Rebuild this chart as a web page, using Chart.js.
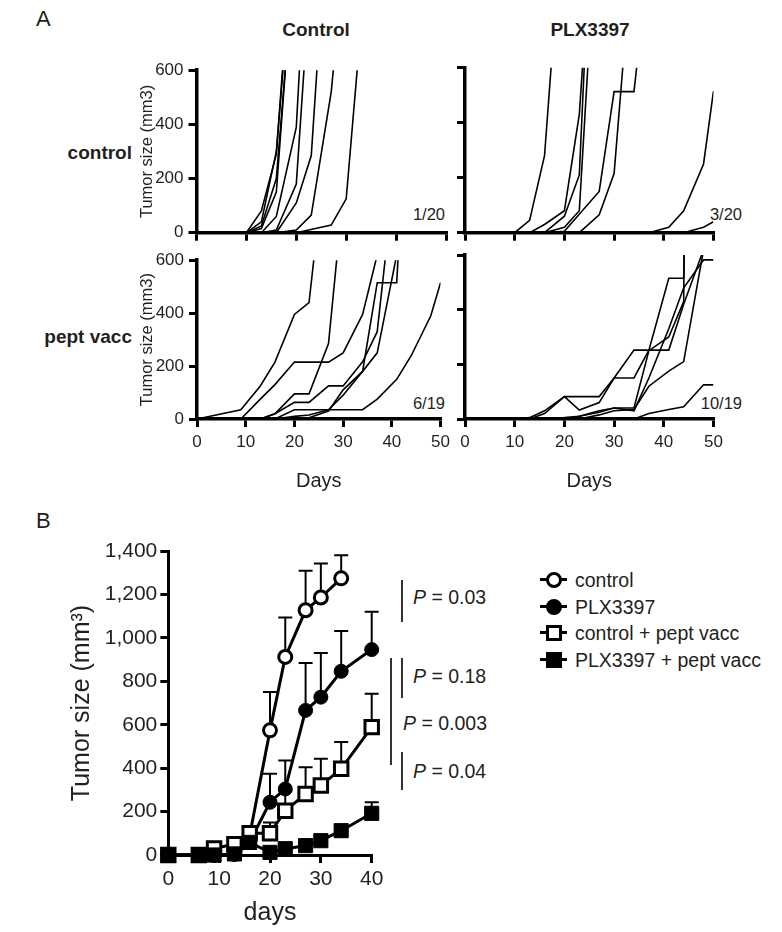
<!DOCTYPE html>
<html><head><meta charset="utf-8">
<script src="https://cdn.jsdelivr.net/npm/chart.js@4/dist/chart.umd.min.js"></script>
<style>
body{margin:0;background:#fff;width:782px;height:932px;position:relative;overflow:hidden;font-family:"Liberation Sans",Arial,sans-serif;color:#231f20}
canvas{position:absolute}
.t{position:absolute;white-space:nowrap;line-height:1}
.vl{position:absolute;width:2px;background:#333}
.lg{position:absolute;height:20px;width:240px}
.lg .ln{position:absolute;left:0;top:8px;width:27px;height:3px;background:#000}
.lg .mk{position:absolute;left:6px;top:2px;width:10px;height:10px;border:3px solid #000;background:#fff}
.lg .tx{position:absolute;left:35px;top:0;font-size:19.5px;line-height:20px}
</style></head><body>

<div class="t" style="left:36px;top:8px;font-size:22px">A</div>
<div class="t" style="left:36px;top:510px;font-size:22px">B</div>
<div class="t" style="left:316px;top:20px;font-size:19px;font-weight:bold;transform:translateX(-50%)">Control</div>
<div class="t" style="left:590px;top:20px;font-size:19px;font-weight:bold;transform:translateX(-50%)">PLX3397</div>
<div class="t" style="right:650px;top:143px;font-size:19px;font-weight:bold">control</div>
<div class="t" style="right:650px;top:327px;font-size:19px;font-weight:bold">pept vacc</div>
<div class="t" style="right:337px;top:206px;font-size:16.5px">1/20</div>
<div class="t" style="right:40px;top:206px;font-size:16.5px">3/20</div>
<div class="t" style="right:337px;top:395px;font-size:16.5px">6/19</div>
<div class="t" style="right:40px;top:395px;font-size:16.5px">10/19</div>

<canvas id="cTL" width="335" height="195" style="left:120px;top:55px"></canvas>
<canvas id="cTR" width="285" height="195" style="left:445px;top:55px"></canvas>
<canvas id="cBL" width="335" height="255" style="left:120px;top:245px"></canvas>
<canvas id="cBR" width="285" height="255" style="left:445px;top:245px"></canvas>
<canvas id="cB" width="350" height="400" style="left:40px;top:530px"></canvas>

<div class="vl" style="left:401px;top:580px;height:42px"></div>
<div class="t" style="left:413px;top:588px;font-size:19.5px"><i>P</i> = 0.03</div>
<div class="vl" style="left:390px;top:658px;height:107px"></div>
<div class="vl" style="left:401px;top:658px;height:40px"></div>
<div class="t" style="left:413px;top:667px;font-size:19.5px"><i>P</i> = 0.18</div>
<div class="t" style="left:403px;top:714px;font-size:19.5px"><i>P</i> = 0.003</div>
<div class="vl" style="left:401px;top:752px;height:38px"></div>
<div class="t" style="left:413px;top:762px;font-size:19.5px"><i>P</i> = 0.04</div>

<div class="lg" style="left:540px;top:570px"><div class="ln"></div><div class="mk" style="border-radius:50%"></div><div class="tx">control</div></div>
<div class="lg" style="left:540px;top:597px"><div class="ln"></div><div class="mk" style="border-radius:50%;background:#000"></div><div class="tx">PLX3397</div></div>
<div class="lg" style="left:540px;top:623px"><div class="ln"></div><div class="mk"></div><div class="tx">control + pept vacc</div></div>
<div class="lg" style="left:540px;top:650px"><div class="ln"></div><div class="mk" style="background:#000"></div><div class="tx">PLX3397 + pept vacc</div></div>

<script>
const FONT = '"Liberation Sans", Arial, sans-serif';
const INK = '#231f20';

// ---- Panel A: individual tumor growth curves, [day, size mm3] ----
const aXTicks = [0, 10, 20, 30, 40, 50];
const aYTicks = [0, 200, 400, 600];

const controlControl = [
  [[10,0],[13,80],[16,290],[20,1300]],
  [[10,0],[13,40],[16,300],[20,1200]],
  [[10,0],[13,15],[16,150],[20,1150]],
  [[10,0],[13,25],[16,200],[20,1100]],
  [[13,0],[16,60],[20,390],[23,1400]],
  [[13,0],[16,10],[20,180],[23,1000]],
  [[16,0],[20,110],[23,285],[27,1400]],
  [[16,0],[20,10],[23,65],[27,520],[30,1100]],
  [[20,0],[27,28],[30,125],[34,990]]
];
const plxControl = [
  [[10,0],[13,45],[16,280],[20,1250]],
  [[13,0],[16,30],[20,80],[23,430],[27,1500]],
  [[16,0],[20,60],[23,210],[27,1800]],
  [[16,0],[20,20],[23,80],[27,1300]],
  [[16,0],[20,5],[27,150],[30,513],[34,513],[37,1000]],
  [[23,0],[27,65],[30,215],[34,1100]],
  [[37,0],[41,20],[44,80],[48,250],[50,515]],
  [[44,0],[48,20],[50,40]]
];
const controlVacc = [
  [[0,0],[9,35],[13,125],[16,215],[20,395],[23,440],[27,1100]],
  [[9,0],[13,75],[16,130],[20,215],[27,215],[30,250],[34,395],[37,620]],
  [[13,0],[16,20],[20,95],[23,95],[27,285],[30,850]],
  [[13,0],[16,20],[20,63],[23,63],[27,125],[30,125],[34,216],[37,330],[41,1000]],
  [[16,0],[20,10],[23,15],[27,35],[30,90],[34,180],[37,515],[41,515],[44,1500]],
  [[16,0],[20,35],[34,35],[37,75],[41,150],[44,240],[48,390],[50,515]],
  [[20,0],[23,5],[27,30],[30,110],[34,180],[37,250],[41,620]]
];
const plxVacc = [
  [[10,0],[13,5],[16,30],[20,82],[23,82],[27,82],[30,150],[34,150],[37,252],[41,515],[44,515],[45,1500]],
  [[13,0],[16,20],[20,82],[23,33],[27,60],[30,150],[34,252],[37,252],[41,252],[44,420],[48,620]],
  [[20,0],[23,10],[27,25],[30,40],[34,30],[37,150],[41,330],[44,480],[48,582],[50,582]],
  [[23,0],[27,15],[30,30],[34,35],[37,120],[41,175],[44,210],[48,620]],
  [[34,0],[37,20],[41,35],[44,45],[48,125],[50,125]],
  [[16,0],[20,5],[23,10],[27,30],[30,40],[34,40],[37,250],[41,300],[44,430],[44.6,1500]]
];

// ---- Panel B: mean tumor size ----
const daysB = [0, 6, 9, 13, 16, 20, 23, 27, 30, 34, 40];
const bControl      = [0, 0, 0, 5, 90, 574, 912, 1127, 1186, 1274, null];
const bControlErr   = [0, 0, 0, 0, 20, 177, 182, 182, 157, 107, null];
const bPlx          = [0, 0, 0, 5, 60, 243, 304, 666, 727, 846, 946];
const bPlxErr       = [0, 0, 0, 0, 15, 131, 131, 218, 203, 186, 174];
const bCtrlVacc     = [0, 0, 30, 50, 100, 100, 204, 281, 320, 397, 589];
const bCtrlVaccErr  = [0, 0, 0, 0, 10, 50, 90, 123, 123, 123, 154];
const bPlxVacc      = [0, 0, 0, 5, 58, 12, 29, 43, 66, 112, 192];
const bPlxVaccErr   = [0, 0, 0, 0, 10, 8, 10, 10, 12, 15, 51];
const bYTicks = [0, 200, 400, 600, 800, 1000, 1200, 1400];
const bXTicks = [0, 10, 20, 30, 40];

function spaghetti(id, lines, o) {
  new Chart(document.getElementById(id), {
    type: 'line',
    data: { datasets: lines.map(l => ({
      data: l.map(p => ({x: p[0], y: p[1]})),
      borderColor: '#000', borderWidth: 1.6, pointRadius: 0, tension: 0, fill: false
    })) },
    options: {
      responsive: false, animation: false, events: [],
      layout: { padding: { left: 0, right: o.padR, top: o.padT, bottom: 0 } },
      plugins: { legend: { display: false }, tooltip: { enabled: false } },
      scales: {
        x: {
          type: 'linear', min: 0, max: 50,
          afterBuildTicks(s) { s.ticks = aXTicks.map(v => ({value: v})); },
          border: { display: true, width: 3.5, color: '#000' },
          grid: { display: true, drawOnChartArea: false, drawTicks: true, tickLength: 8, lineWidth: 3, color: '#000' },
          ticks: { display: o.xLabels, font: { size: 17, family: FONT }, color: INK, padding: 5, maxRotation: 0 },
          title: { display: o.xLabels, text: 'Days', font: { size: 20, family: FONT }, color: INK, padding: { top: 0, bottom: 7 } },
          afterFit(s) { s.height = o.xH; }
        },
        y: {
          min: 0, max: 600,
          afterBuildTicks(s) { s.ticks = aYTicks.map(v => ({value: v})); },
          border: { display: true, width: 3.5, color: '#000' },
          grid: { display: true, drawOnChartArea: false, drawTicks: true, tickLength: 8, lineWidth: 3, color: '#000' },
          ticks: { display: o.yLabels, font: { size: 17, family: FONT }, color: INK, padding: 5 },
          title: { display: o.yLabels, text: 'Tumor size (mm3)', font: { size: 16.5, family: FONT }, color: INK, padding: { top: 18, bottom: 0 } },
          afterFit(s) { s.width = o.yW; }
        }
      }
    }
  });
}

spaghetti('cTL', controlControl, { padR: 9, padT: 12.7, xH: 17.3, yW: 76.5, xLabels: false, yLabels: true });
spaghetti('cTR', plxControl,     { padR: 16.5, padT: 12.7, xH: 17.3, yW: 20, xLabels: false, yLabels: false });
spaghetti('cBL', controlVacc,    { padR: 9, padT: 10, xH: 81, yW: 77, xLabels: true, yLabels: true });
spaghetti('cBR', plxVacc,        { padR: 16.5, padT: 10, xH: 81, yW: 20, xLabels: true, yLabels: false });

const errorBars = {
  id: 'errorBars',
  beforeDatasetsDraw(chart) {
    const { ctx, scales: { x, y } } = chart;
    ctx.save();
    ctx.strokeStyle = '#000'; ctx.lineWidth = 2;
    chart.data.datasets.forEach(ds => {
      if (!ds.errors) return;
      ds.data.forEach((pt, i) => {
        const e = ds.errors[i];
        if (!pt || !e) return;
        const px = x.getPixelForValue(pt.x);
        const y0 = y.getPixelForValue(pt.y), y1 = y.getPixelForValue(pt.y + e);
        ctx.beginPath();
        ctx.moveTo(px, y0); ctx.lineTo(px, y1);
        ctx.moveTo(px - 7, y1); ctx.lineTo(px + 7, y1);
        ctx.stroke();
      });
    });
    ctx.restore();
  }
};

function series(vals) {
  return daysB.map((d, i) => vals[i] == null ? null : ({x: d, y: vals[i]})).filter(p => p);
}
function errs(vals, e) {
  return daysB.map((d, i) => vals[i] == null ? null : e[i]).filter(v => v !== null);
}

new Chart(document.getElementById('cB'), {
  type: 'line',
  data: { datasets: [
    { label: 'control', data: series(bControl), errors: errs(bControl, bControlErr), order: 3,
      borderColor: '#000', borderWidth: 3, pointStyle: 'circle', pointRadius: 6.5, pointBorderWidth: 3,
      pointBackgroundColor: '#fff', pointBorderColor: '#000', clip: false, tension: 0 },
    { label: 'PLX3397', data: series(bPlx), errors: errs(bPlx, bPlxErr), order: 2,
      borderColor: '#000', borderWidth: 3, pointStyle: 'circle', pointRadius: 7, pointBorderWidth: 1,
      pointBackgroundColor: '#000', pointBorderColor: '#000', clip: false, tension: 0 },
    { label: 'control + pept vacc', data: series(bCtrlVacc), errors: errs(bCtrlVacc, bCtrlVaccErr), order: 1,
      borderColor: '#000', borderWidth: 3, pointStyle: 'rect', pointRadius: 9.5, pointBorderWidth: 3,
      pointBackgroundColor: '#fff', pointBorderColor: '#000', clip: false, tension: 0 },
    { label: 'PLX3397 + pept vacc', data: series(bPlxVacc), errors: errs(bPlxVacc, bPlxVaccErr), order: 0,
      borderColor: '#000', borderWidth: 3, pointStyle: 'rect', pointRadius: 10, pointBorderWidth: 1,
      pointBackgroundColor: '#000', pointBorderColor: '#000', clip: false, tension: 0 }
  ] },
  options: {
    responsive: false, animation: false, events: [],
    layout: { padding: { left: 0, right: 18.3, top: 21, bottom: 0 } },
    plugins: { legend: { display: false }, tooltip: { enabled: false } },
    scales: {
      x: {
        type: 'linear', min: 0, max: 40,
        afterBuildTicks(s) { s.ticks = bXTicks.map(v => ({value: v})); },
        border: { display: true, width: 3, color: '#000' },
        grid: { display: true, drawOnChartArea: false, drawTicks: true, tickLength: 8, lineWidth: 3, color: '#000' },
        ticks: { font: { size: 21, family: FONT }, color: INK, padding: 4, maxRotation: 0 },
        title: { display: true, text: 'days', font: { size: 25, family: FONT }, color: INK, padding: { top: 0, bottom: 2 } },
        afterFit(s) { s.height = 75; }
      },
      y: {
        min: 0, max: 1400,
        afterBuildTicks(s) { s.ticks = bYTicks.map(v => ({value: v})); },
        border: { display: true, width: 3, color: '#000' },
        grid: { display: true, drawOnChartArea: false, drawTicks: true, tickLength: 8, lineWidth: 3, color: '#000' },
        ticks: { font: { size: 21, family: FONT }, color: INK, padding: 3 },
        title: { display: true, text: 'Tumor size (mm³)', font: { size: 25, family: FONT }, color: INK, padding: { top: 27, bottom: 0 } },
        afterFit(s) { s.width = 128.3; }
      }
    }
  },
  plugins: [errorBars]
});
</script>
</body></html>
